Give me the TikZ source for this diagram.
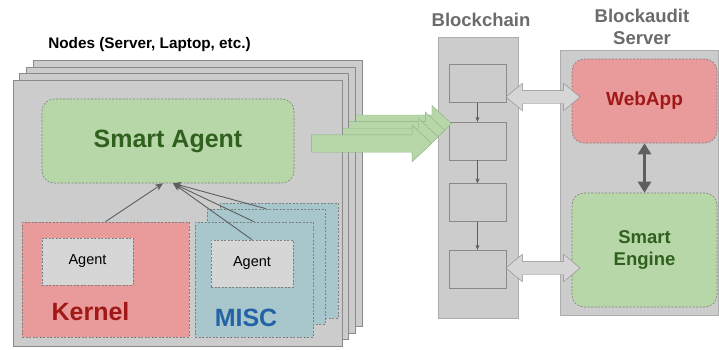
\documentclass[tikz,border=0pt]{standalone}
\usepackage{fontspec}
\setmainfont{Liberation Sans}
\usetikzlibrary{shapes.arrows,arrows.meta}
\definecolor{panel}{HTML}{CCCCCC}
\definecolor{paneledge}{HTML}{8A8A8A}
\definecolor{dashedge}{HTML}{7F7F7F}
\definecolor{leaf}{HTML}{B7D7A8}
\definecolor{leafedge}{HTML}{8DB083}
\definecolor{leafdark}{HTML}{2F601D}
\definecolor{rose}{HTML}{E99A9A}
\definecolor{rosedark}{HTML}{A01818}
\definecolor{misccol}{HTML}{A7C7CC}
\definecolor{miscblue}{HTML}{2462A6}
\definecolor{agentgray}{HTML}{D6D6D6}
\definecolor{headgray}{HTML}{6B6B6B}
\definecolor{tipgray}{HTML}{5E5E5E}
\tikzset{
  layer/.style={draw=paneledge, fill=panel, minimum width=329, minimum height=266, inner sep=0},
  column/.style={draw=paneledge!70, fill=panel, inner sep=0},
  block/.style={draw=paneledge, fill=panel, minimum width=57, minimum height=38, inner sep=0},
  part/.style={draw=dashedge, dash pattern=on 2pt off 1.5pt, line width=0.6pt, inner sep=0},
  word/.style={font=\fontsize{25}{30}\selectfont\bfseries},
  heading/.style={font=\fontsize{18.5}{22}\selectfont\bfseries, text=headgray},
  flow/.style={single arrow, draw=leafedge, fill=leaf, minimum height=120, inner sep=8.5,
    single arrow head extend=9.5, single arrow tip angle=86},
  link/.style={double arrow, draw=paneledge, fill=agentgray, minimum height=74, inner sep=6.5,
    double arrow head extend=7, double arrow tip angle=80},
  feed/.style={draw=tipgray, line width=0.9pt, -{Stealth[length=8pt,width=7pt]}},
  chainlink/.style={draw=tipgray, line width=0.5pt, -{Stealth[length=5pt,width=4pt]}},
  both/.style={draw=tipgray, line width=3.5pt, {Triangle[width=13pt,length=11pt]}-{Triangle[width=13pt,length=11pt]}}
}
\begin{document}
\begin{tikzpicture}[x=1pt,y=-1pt]
\useasboundingbox (0,0) rectangle (719,349);
\node[font=\fontsize{15.3}{18}\selectfont\bfseries] (ndtitle) at (149.5,45) {Nodes (Server, Laptop, etc.)};
\node[column, minimum width=80, minimum height=281] (chain) at (478,177.5) {};
\node[heading] (chaintitle) at (481,20) {Blockchain};
\foreach \y [count=\k] in {83.5,141,202.5,269}
  \node[block] (b\k) at (477.5,\y) {};
\foreach \k [evaluate=\k as \n using int(\k+1)] in {1,2,3}
  \draw[chainlink] (b\k) -- (b\n);
\node[column, minimum width=158, minimum height=265] (srv) at (639,182.5) {};
\node[heading, align=center] (srvtitle) at (642,27) {Blockaudit\\Server};
\node[part, rounded corners=12, fill=rose, minimum width=145, minimum height=84, font=\fontsize{19}{23}\selectfont\bfseries, text=rosedark] (web) at (644.5,101) {WebApp};
\node[part, rounded corners=12, fill=leaf, minimum width=145, minimum height=114, align=center, font=\fontsize{18.5}{22}\selectfont\bfseries, text=leafdark] (eng) at (644.5,250) {Smart\\Engine};
\draw[both] (web) -- (eng);
\node[link] (ln1) at (543,97) {};
\node[link] (ln2) at (543,268) {};
\foreach \i in {3,2,1,0}{
  \pgfmathsetmacro{\off}{6.6*\i}
  \node[layer] (nd\i) at (177.5+\off,213-\off) {};
  \node[flow] (fl\i) at (367+\off,143.5-\off) {};
}
\node[part, rounded corners=12, fill=leaf, minimum width=252, minimum height=84, word, text=leafdark] (sa) at (168,141) {Smart Agent};
\node[part, fill=rose, minimum width=167, minimum height=115] (kernel) at (105.5,279.5) {};
\node[part, fill=agentgray, minimum width=91, minimum height=47, font=\fontsize{14.5}{17}\selectfont] (kagent) at (87.5,261.5) {Agent};
\node[word, text=rosedark] (kword) at (90.5,312) {Kernel};
\foreach \dx/\dy/\nm in {25/-19/misc3,12/-13/misc2,0/0/misc}
  \node[part, fill=misccol, minimum width=118, minimum height=115] (\nm) at (254+\dx,279.5+\dy) {};
\node[part, fill=agentgray, minimum width=82, minimum height=47, font=\fontsize{14.5}{17}\selectfont] (magent) at (252,263.5) {Agent};
\node[word, text=miscblue] (mword) at (246,318) {MISC};
\draw[feed] (kernel.north) -- ([xshift=-5pt]sa.south);
\draw[feed] (magent.north) -- ([xshift=5pt]sa.south);
\draw[feed] (misc.north) -- ([xshift=5pt]sa.south);
\draw[feed] (misc2.north) -- ([xshift=5pt]sa.south);
\end{tikzpicture}
\end{document}
